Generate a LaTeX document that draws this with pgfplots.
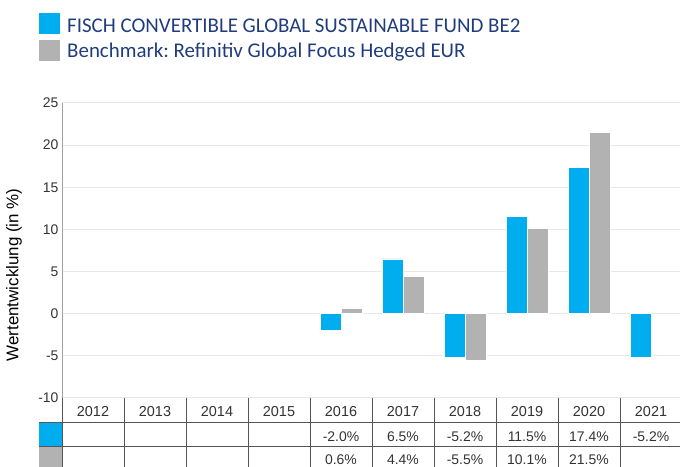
\documentclass[border=0pt]{standalone}
\usepackage{pgfplots}
\pgfplotsset{compat=1.18}
\usepackage{fontspec}
\setmainfont{Liberation Sans}
\newfontfamily\calibri{Carlito}
\frenchspacing
\definecolor{fblue}{HTML}{00ADEF}
\definecolor{bgray}{HTML}{B2B2B2}
\definecolor{navy}{HTML}{203C7E}
\definecolor{txt}{HTML}{333333}
\definecolor{tline}{HTML}{555555}
\definecolor{gridc}{HTML}{E8E8E8}
\definecolor{yaxc}{HTML}{A0A0A0}
\begin{document}
\begin{tikzpicture}[x=1bp,y=1bp]
\useasboundingbox (0,0) rectangle (680,467);
\begin{axis}[at={(62bp,69bp)}, anchor=south west, scale only axis,
  width=618bp, height=295bp,
  xmin=-0.5, xmax=9.468, ymin=-10, ymax=25,
  ytick={-10,-5,...,25}, xtick=\empty,
  axis lines*=left,
  x axis line style={color=gridc, line width=1bp},
  y axis line style={color=yaxc, line width=1bp},
  major tick length=0pt,
  ymajorgrids, grid style={color=gridc, line width=1bp},
  ybar=0pt, bar width=21bp,
  yticklabel style={font=\fontsize{14}{16}\selectfont, text=txt},
  /pgf/number format/assume math mode=true,
  clip=false]
\addplot[fill=fblue, draw=white, line width=0.6bp] coordinates {(4,-2.0) (5,6.5) (6,-5.2) (7,11.5) (8,17.4) (9,-5.2)};
\addplot[fill=bgray, draw=white, line width=0.6bp] coordinates {(4,0.6) (5,4.4) (6,-5.5) (7,10.1) (8,21.5)};
\end{axis}
% y label
\node[rotate=90, font=\fontsize{17}{20}\selectfont, text=black] at (14,192) {Wertentwicklung (in \%)};
% legend
\fill[fblue] (39,433) rectangle (60,454);
\fill[bgray] (39,406) rectangle (60,427);
\node[anchor=base west, inner sep=0, font=\calibri\fontsize{21}{25}\selectfont, text=navy] at (67,434) {FISCH CONVERTIBLE GLOBAL SUSTAINABLE FUND BE2};
\node[anchor=base west, inner sep=0, font=\calibri\fontsize{21}{25}\selectfont, text=navy] at (67,409) {Benchmark: Refinitiv Global Focus Hedged EUR};
% table
\fill[fblue] (39,21) rectangle (61.5,43.5);
\fill[bgray] (39,0) rectangle (61.5,19.5);
\draw[tline, line width=1bp] (39,44) -- (680,44);
\draw[tline, line width=1bp] (39,20) -- (680,20);
\foreach \k in {0,...,9} {\draw[tline, line width=1bp] ({62+62*\k},0) -- ({62+62*\k},68.5);}
\foreach \y [count=\i from 0] in {2012,2013,2014,2015,2016,2017,2018,2019,2020,2021}
  {\node[anchor=base, inner sep=0, font=\fontsize{14.5}{16}\selectfont, text=txt] at ({93+62*\i},50.3) {\y};}
\foreach \v [count=\i from 4] in {-2.0\%,6.5\%,-5.2\%,11.5\%,17.4\%,-5.2\%}
  {\node[anchor=base, inner sep=0, font=\fontsize{14}{16}\selectfont, text=txt] at ({93+62*\i},25.5) {\v};}
\foreach \v [count=\i from 4] in {0.6\%,4.4\%,-5.5\%,10.1\%,21.5\%}
  {\node[anchor=base, inner sep=0, font=\fontsize{14}{16}\selectfont, text=txt] at ({93+62*\i},2.5) {\v};}
\end{tikzpicture}
\end{document}
